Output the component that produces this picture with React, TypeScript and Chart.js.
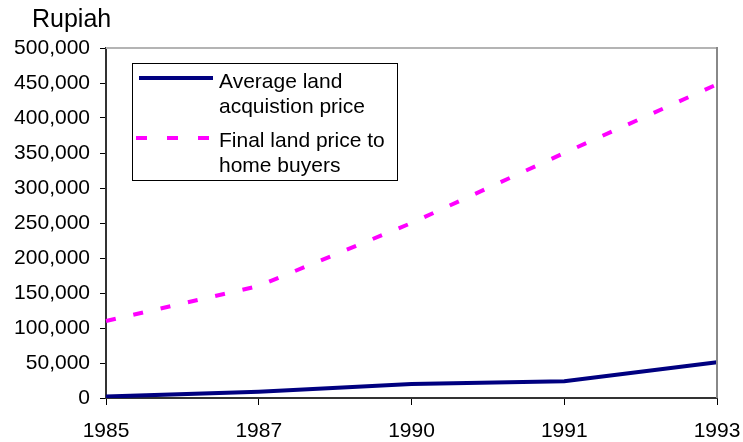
import React, { useEffect, useRef } from 'react';
import { Chart, registerables } from 'chart.js';

Chart.register(...registerables);

const years = ['1985', '1987', '1990', '1991', '1993'];
const avgAcquisitionPrice = [2000, 9000, 20000, 24000, 51000];
const finalPriceToBuyers = [110000, 160000, 250000, 350000, 448000];
const yTickValues = [0, 50000, 100000, 150000, 200000, 250000, 300000, 350000, 400000, 450000, 500000];
const seriesLabels = [
  ['Average land', 'acquistion price'],
  ['Final land price to', 'home buyers'],
];
const yAxisTitle = 'Rupiah';

const FONT = "'Liberation Sans', Arial, sans-serif";
const NAVY = '#000080';
const MAGENTA = '#ff00ff';

const framePlugin = {
  id: 'frameAndLegend',
  afterDraw(chart: any) {
    const { ctx, chartArea } = chart;
    const { left, right, top, bottom } = chartArea;
    ctx.save();
    // top & right frame
    ctx.lineWidth = 2;
    ctx.strokeStyle = '#b4b4b4';
    ctx.beginPath();
    ctx.moveTo(left, top);
    ctx.lineTo(right, top);
    ctx.stroke();
    ctx.strokeStyle = '#888888';
    ctx.beginPath();
    ctx.moveTo(right, top - 1);
    ctx.lineTo(right, bottom);
    ctx.stroke();

    // y axis title
    ctx.fillStyle = '#000';
    ctx.font = `25px ${FONT}`;
    ctx.textAlign = 'left';
    ctx.textBaseline = 'alphabetic';
    ctx.fillText(yAxisTitle, 32, 27);

    // legend box
    const bx = left + 26;
    const by = top + 15;
    const bw = 265;
    const bh = 117;
    ctx.fillStyle = '#fff';
    ctx.fillRect(bx, by, bw, bh);
    ctx.lineWidth = 1;
    ctx.strokeStyle = '#000';
    ctx.strokeRect(bx + 0.5, by + 0.5, bw, bh);

    // marker 1
    ctx.lineWidth = 4;
    ctx.setLineDash([]);
    ctx.strokeStyle = NAVY;
    ctx.beginPath();
    ctx.moveTo(bx + 7, by + 15);
    ctx.lineTo(bx + 81, by + 15);
    ctx.stroke();
    // marker 2
    ctx.strokeStyle = MAGENTA;
    ctx.setLineDash([11, 20]);
    ctx.beginPath();
    ctx.moveTo(bx + 4, by + 75);
    ctx.lineTo(bx + 80, by + 75);
    ctx.stroke();
    ctx.setLineDash([]);

    ctx.fillStyle = '#000';
    ctx.font = `21px ${FONT}`;
    const tx = bx + 87;
    ctx.fillText(seriesLabels[0][0], tx, by + 25);
    ctx.fillText(seriesLabels[0][1], tx, by + 50);
    ctx.fillText(seriesLabels[1][0], tx, by + 84);
    ctx.fillText(seriesLabels[1][1], tx, by + 109);
    ctx.restore();
  },
};

export default function App() {
  const ref = useRef<HTMLCanvasElement>(null);
  useEffect(() => {
    document.body.style.margin = '0';
    const canvas = ref.current!;
    const chart = new Chart(canvas, {
      type: 'line',
      data: {
        labels: years,
        datasets: [
          {
            label: seriesLabels[0].join(' '),
            data: avgAcquisitionPrice,
            borderColor: NAVY,
            borderWidth: 4,
            pointRadius: 0,
            tension: 0,
            fill: false,
          },
          {
            label: seriesLabels[1].join(' '),
            data: finalPriceToBuyers,
            borderColor: MAGENTA,
            borderWidth: 4,
            borderDash: [10, 18],
            borderCapStyle: 'butt',
            pointRadius: 0,
            tension: 0,
            fill: false,
          },
        ],
      },
      options: {
        animation: false,
        responsive: false,
        maintainAspectRatio: false,
        layout: { padding: { left: 0, right: 26, top: 48, bottom: 0 } },
        plugins: {
          legend: { display: false },
          tooltip: { enabled: false },
          title: { display: false },
        },
        scales: {
          x: {
            type: 'category',
            offset: false,
            afterFit(scale: any) {
              scale.height = 44;
              scale.paddingLeft = 0;
              scale.paddingRight = 0;
            },
            grid: {
              drawOnChartArea: false,
              drawTicks: true,
              tickLength: 7,
              color: '#000',
              lineWidth: 1,
            },
            border: { display: true, color: '#333', width: 2 },
            ticks: {
              color: '#000',
              font: { family: FONT, size: 21 },
              padding: 14,
              maxRotation: 0,
              autoSkip: false,
            },
          },
          y: {
            min: 0,
            max: 500000,
            afterFit(scale: any) {
              scale.width = 106;
              scale.paddingTop = 0;
              scale.paddingBottom = 0;
            },
            afterBuildTicks(scale: any) {
              scale.ticks = yTickValues.map((v) => ({ value: v }));
            },
            grid: {
              drawOnChartArea: false,
              drawTicks: true,
              tickLength: 6,
              color: '#000',
              lineWidth: 1,
            },
            border: { display: true, color: '#333', width: 2 },
            ticks: {
              color: '#000',
              font: { family: FONT, size: 21 },
              padding: 10,
              callback: (v: any) => Number(v).toLocaleString('en-US'),
            },
          },
        },
      },
      plugins: [framePlugin],
    });
    return () => chart.destroy();
  }, []);
  return <canvas ref={ref} width={743} height={442} style={{ display: 'block' }} />;
}
